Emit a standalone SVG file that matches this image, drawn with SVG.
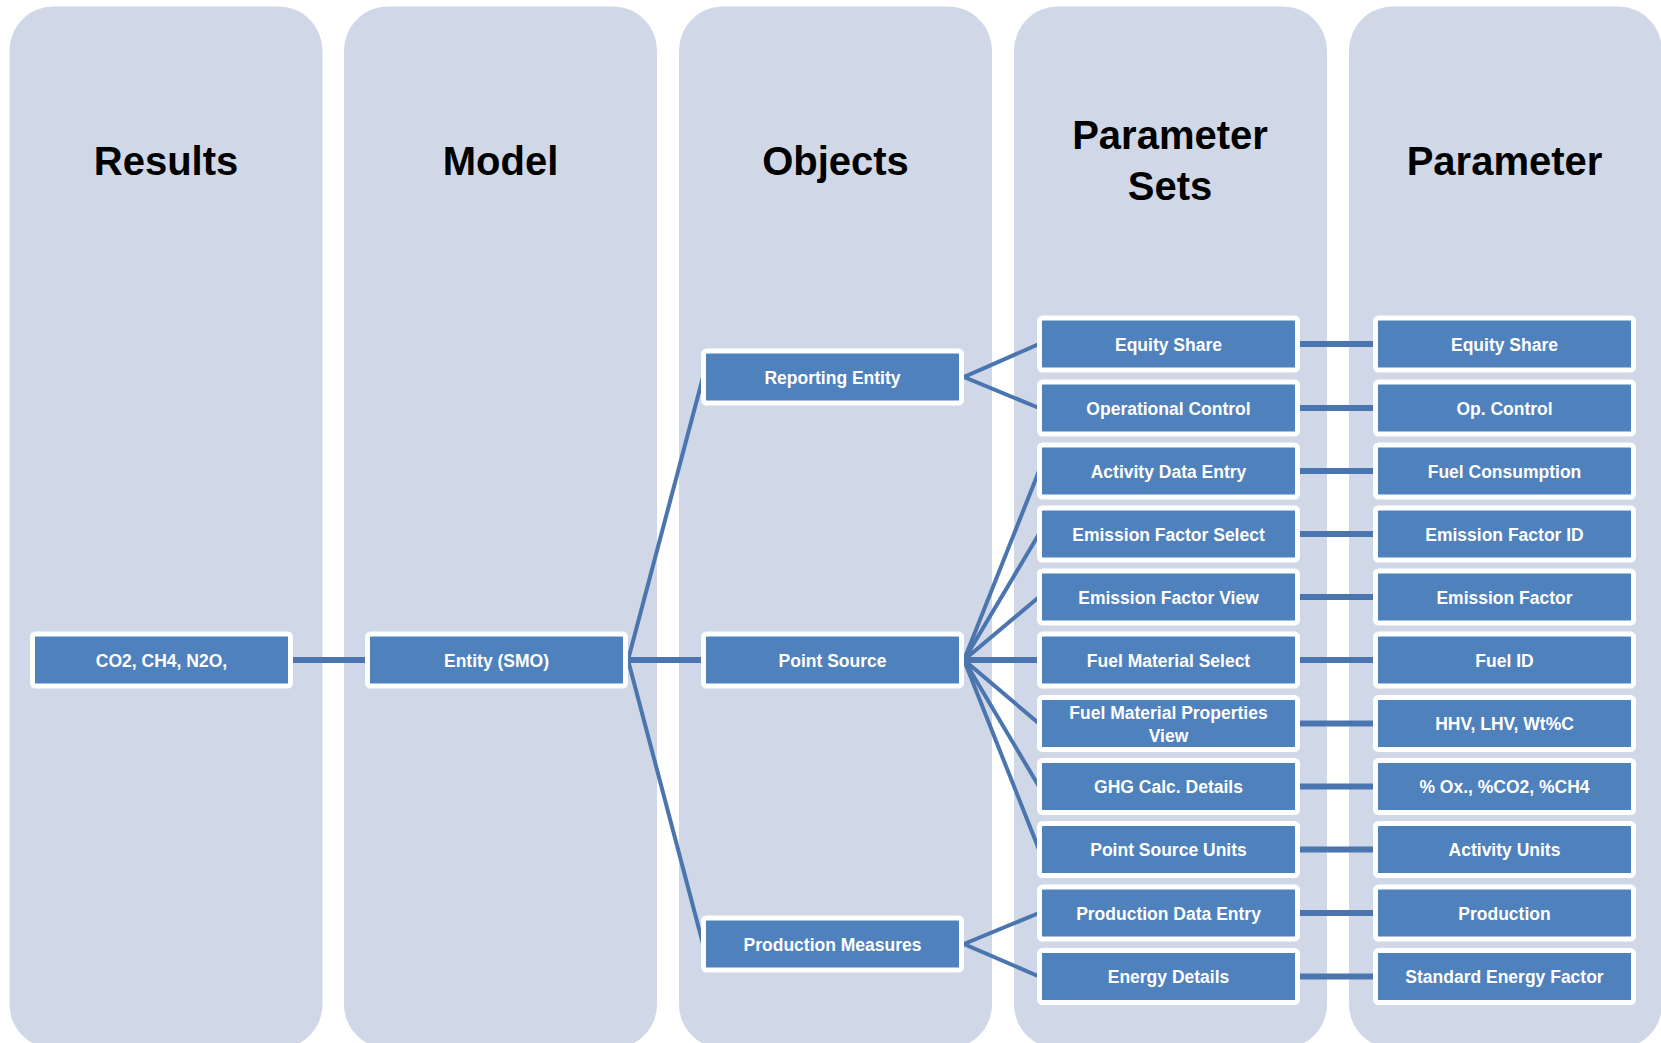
<svg xmlns="http://www.w3.org/2000/svg" width="1661" height="1043" viewBox="0 0 1661 1043">
<style>
.col{fill:#D0D8E8}
.title{font-family:"Liberation Sans",Arial,sans-serif;font-weight:bold;font-size:40px;fill:#000;text-anchor:middle}
.node rect{fill:#4F81BD;stroke:#FFFFFF;stroke-width:5}
.node text{font-family:"Liberation Sans",Arial,sans-serif;font-weight:bold;font-size:17.5px;fill:#FFFFFF;text-anchor:middle}
.thin{stroke:#4A75AE;stroke-width:4;fill:none}
.thick{stroke:#4A75AE;stroke-width:6;fill:none}
</style>
<rect width="1661" height="1043" fill="#FFFFFF"/>
<g id="columns">
<rect class="col" x="9.5" y="6.5" width="313" height="1042" rx="44"/>
<rect class="col" x="344" y="6.5" width="313" height="1042" rx="44"/>
<rect class="col" x="679" y="6.5" width="313" height="1042" rx="44"/>
<rect class="col" x="1014" y="6.5" width="313" height="1042" rx="44"/>
<rect class="col" x="1349" y="6.5" width="313" height="1042" rx="44"/>
<text class="title" x="166" y="175">Results</text>
<text class="title" x="500.5" y="175">Model</text>
<text class="title" x="835.5" y="175">Objects</text>
<text class="title" x="1170" y="149">Parameter</text>
<text class="title" x="1170" y="200">Sets</text>
<text class="title" x="1504.5" y="175">Parameter</text>
</g>
<g id="connectors">
<line class="thick" x1="290" y1="660" x2="368" y2="660"/>
<line class="thin" x1="628" y1="660" x2="703" y2="377"/>
<line class="thick" x1="628" y1="660" x2="703" y2="660"/>
<line class="thin" x1="628" y1="660" x2="703" y2="944"/>
<polyline class="thin" points="1039,344 964,377 1039,408"/>
<line class="thin" x1="964" y1="660" x2="1039" y2="471"/>
<line class="thin" x1="964" y1="660" x2="1039" y2="534"/>
<line class="thin" x1="964" y1="660" x2="1039" y2="597"/>
<line class="thick" x1="964" y1="660" x2="1039" y2="660"/>
<line class="thin" x1="964" y1="660" x2="1039" y2="723.5"/>
<line class="thin" x1="964" y1="660" x2="1039" y2="786.5"/>
<line class="thin" x1="964" y1="660" x2="1039" y2="849.5"/>
<polyline class="thin" points="1039,913 964,944 1039,976.5"/>
<line class="thick" x1="1300" y1="344" x2="1375" y2="344"/>
<line class="thick" x1="1300" y1="408" x2="1375" y2="408"/>
<line class="thick" x1="1300" y1="471" x2="1375" y2="471"/>
<line class="thick" x1="1300" y1="534" x2="1375" y2="534"/>
<line class="thick" x1="1300" y1="597" x2="1375" y2="597"/>
<line class="thick" x1="1300" y1="660" x2="1375" y2="660"/>
<line class="thick" x1="1300" y1="723.5" x2="1375" y2="723.5"/>
<line class="thick" x1="1300" y1="786.5" x2="1375" y2="786.5"/>
<line class="thick" x1="1300" y1="849.5" x2="1375" y2="849.5"/>
<line class="thick" x1="1300" y1="913" x2="1375" y2="913"/>
<line class="thick" x1="1300" y1="976.5" x2="1375" y2="976.5"/>
</g>
<g id="n-results" class="node"><rect x="32.5" y="634" width="258" height="52" rx="3"/><text x="161.5" y="666.5">CO2, CH4, N2O,</text></g>
<g id="n-model" class="node"><rect x="367.5" y="634" width="258" height="52" rx="3"/><text x="496.5" y="666.5">Entity (SMO)</text></g>
<g id="n-reporting" class="node"><rect x="703.5" y="351" width="258" height="52" rx="3"/><text x="832.5" y="383.5">Reporting Entity</text></g>
<g id="n-point" class="node"><rect x="703.5" y="634" width="258" height="52" rx="3"/><text x="832.5" y="666.5">Point Source</text></g>
<g id="n-production" class="node"><rect x="703.5" y="918" width="258" height="52" rx="3"/><text x="832.5" y="950.5">Production Measures</text></g>
<g id="ps-equity" class="node"><rect x="1039.5" y="318" width="258" height="52" rx="3"/><text x="1168.5" y="350.5">Equity Share</text></g>
<g id="ps-opcontrol" class="node"><rect x="1039.5" y="382" width="258" height="52" rx="3"/><text x="1168.5" y="414.5">Operational Control</text></g>
<g id="ps-activity" class="node"><rect x="1039.5" y="445" width="258" height="52" rx="3"/><text x="1168.5" y="477.5">Activity Data Entry</text></g>
<g id="ps-efselect" class="node"><rect x="1039.5" y="508" width="258" height="52" rx="3"/><text x="1168.5" y="540.5">Emission Factor Select</text></g>
<g id="ps-efview" class="node"><rect x="1039.5" y="571" width="258" height="52" rx="3"/><text x="1168.5" y="603.5">Emission Factor View</text></g>
<g id="ps-fmselect" class="node"><rect x="1039.5" y="634" width="258" height="52" rx="3"/><text x="1168.5" y="666.5">Fuel Material Select</text></g>
<g id="ps-fmprops" class="node"><rect x="1039.5" y="697.5" width="258" height="52" rx="3"/><text x="1168.5" y="719">Fuel Material Properties</text><text x="1168.5" y="741.5">View</text></g>
<g id="ps-ghg" class="node"><rect x="1039.5" y="760.5" width="258" height="52" rx="3"/><text x="1168.5" y="793">GHG Calc. Details</text></g>
<g id="ps-psunits" class="node"><rect x="1039.5" y="823.5" width="258" height="52" rx="3"/><text x="1168.5" y="856">Point Source Units</text></g>
<g id="ps-proddata" class="node"><rect x="1039.5" y="887" width="258" height="52" rx="3"/><text x="1168.5" y="919.5">Production Data Entry</text></g>
<g id="ps-energy" class="node"><rect x="1039.5" y="950.5" width="258" height="52" rx="3"/><text x="1168.5" y="983">Energy Details</text></g>
<g id="p-equity" class="node"><rect x="1375.5" y="318" width="258" height="52" rx="3"/><text x="1504.5" y="350.5">Equity Share</text></g>
<g id="p-opcontrol" class="node"><rect x="1375.5" y="382" width="258" height="52" rx="3"/><text x="1504.5" y="414.5">Op. Control</text></g>
<g id="p-fuelcons" class="node"><rect x="1375.5" y="445" width="258" height="52" rx="3"/><text x="1504.5" y="477.5">Fuel Consumption</text></g>
<g id="p-efid" class="node"><rect x="1375.5" y="508" width="258" height="52" rx="3"/><text x="1504.5" y="540.5">Emission Factor ID</text></g>
<g id="p-ef" class="node"><rect x="1375.5" y="571" width="258" height="52" rx="3"/><text x="1504.5" y="603.5">Emission Factor</text></g>
<g id="p-fuelid" class="node"><rect x="1375.5" y="634" width="258" height="52" rx="3"/><text x="1504.5" y="666.5">Fuel ID</text></g>
<g id="p-hhv" class="node"><rect x="1375.5" y="697.5" width="258" height="52" rx="3"/><text x="1504.5" y="730">HHV, LHV, Wt%C</text></g>
<g id="p-ox" class="node"><rect x="1375.5" y="760.5" width="258" height="52" rx="3"/><text x="1504.5" y="793">% Ox., %CO2, %CH4</text></g>
<g id="p-actunits" class="node"><rect x="1375.5" y="823.5" width="258" height="52" rx="3"/><text x="1504.5" y="856">Activity Units</text></g>
<g id="p-production" class="node"><rect x="1375.5" y="887" width="258" height="52" rx="3"/><text x="1504.5" y="919.5">Production</text></g>
<g id="p-sef" class="node"><rect x="1375.5" y="950.5" width="258" height="52" rx="3"/><text x="1504.5" y="983">Standard Energy Factor</text></g>
</svg>
